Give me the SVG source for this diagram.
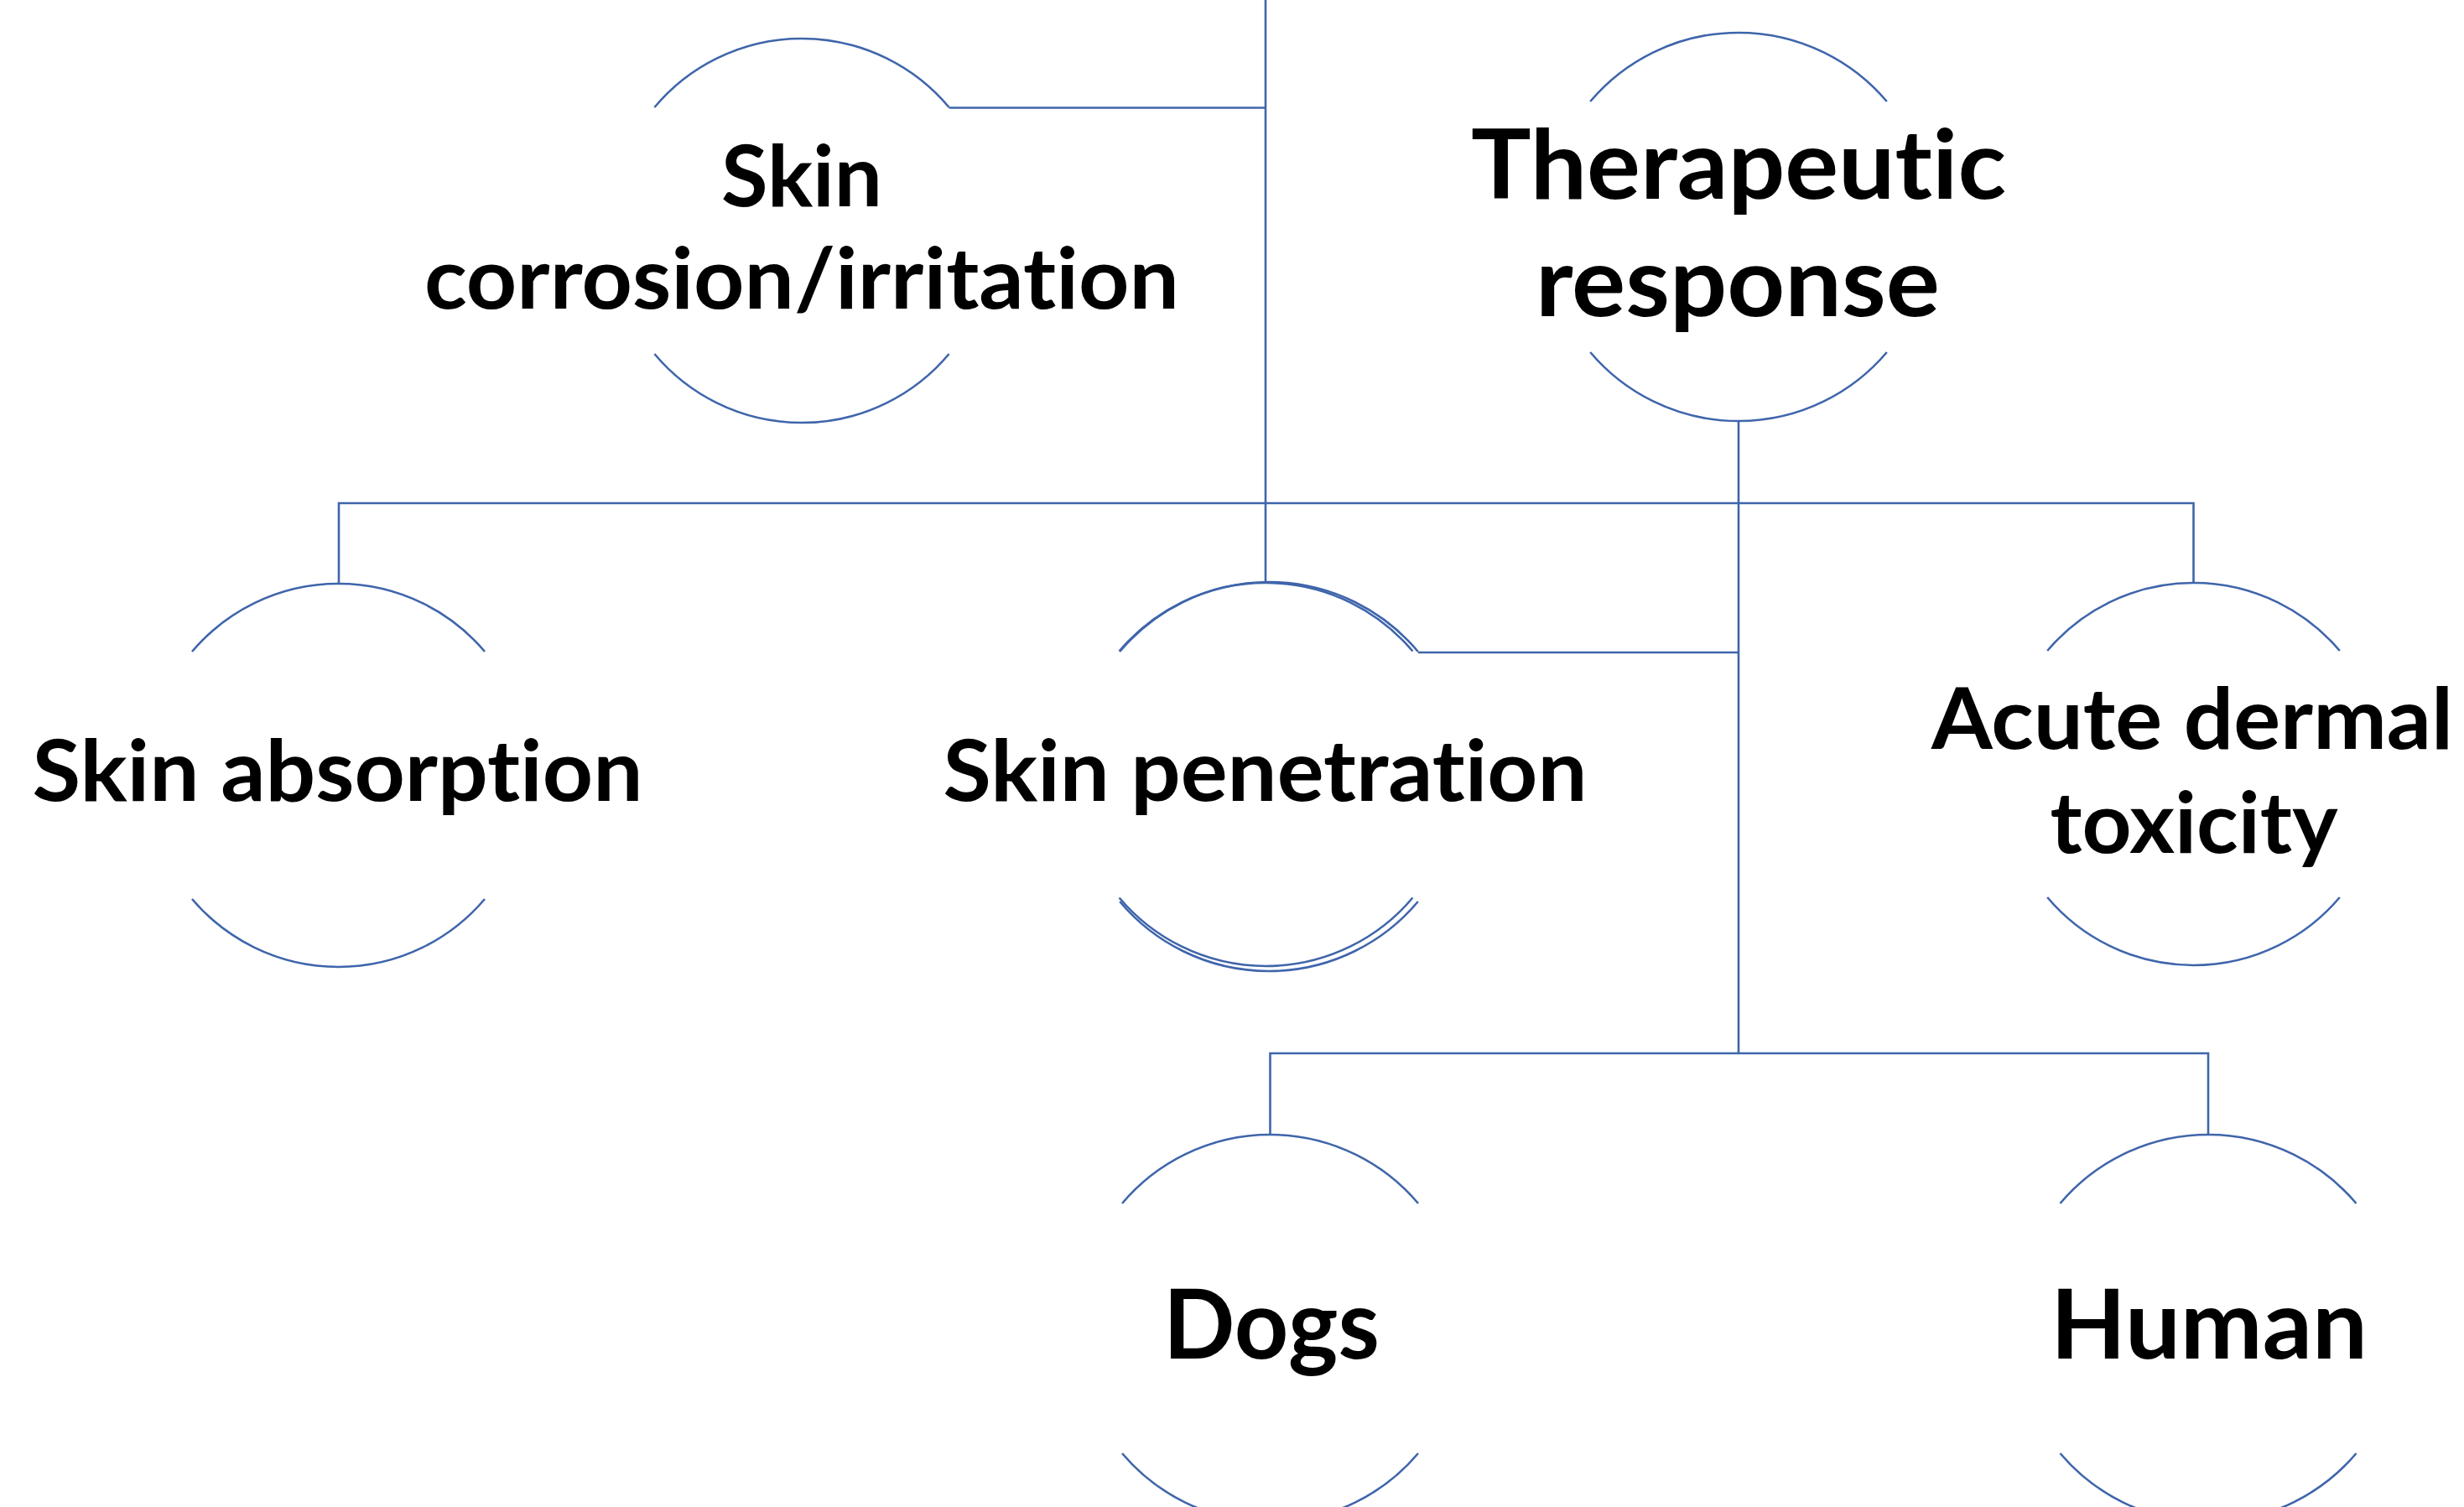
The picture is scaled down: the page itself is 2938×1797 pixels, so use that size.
<svg xmlns="http://www.w3.org/2000/svg" width="2938" height="1797" viewBox="0 0 2938 1797">
<style>
.arc{fill:none;stroke:#3F65AB;stroke-width:2.6}
.con{fill:none;stroke:#3F65AB;stroke-width:2.6}
.t{font-family:Lato,"Open Sans","Liberation Sans",sans-serif;font-weight:bold;fill:#000;text-anchor:middle;font-variant-ligatures:none;font-feature-settings:"liga" 0,"clig" 0,"dlig" 0}
.m{font-size:101px}
.l{font-size:114px}
</style>
<rect width="2938" height="1797" fill="#fff"/>
<g id="connectors">
<path class="con" d="M1509,0 V695"/>
<path class="con" d="M1131.6,128.5 H1509"/>
<path class="con" d="M404,696 V600 H2615.5 V695"/>
<path class="con" d="M2073,502 V1256"/>
<path class="con" d="M1690.8,778 H2073"/>
<path class="con" d="M1514.5,1353 V1256 H2633 V1353"/>
</g>
<g id="node-skin-corrosion">
<path class="arc" d="M780.4,128 A229,229 0 0 1 1131.6,128"/>
<path class="arc" d="M780.4,422 A229,229 0 0 0 1131.6,422"/>
<text class="t m" x="956" y="246" textLength="192" lengthAdjust="spacingAndGlyphs">Skin</text>
<text class="t m" x="956" y="368" textLength="900" lengthAdjust="spacingAndGlyphs">corrosion/irritation</text>
</g>
<g id="node-therapeutic-response">
<path class="arc" d="M1896.2,121 A231.5,231.5 0 0 1 2249.8,121"/>
<path class="arc" d="M1896.2,420 A231.5,231.5 0 0 0 2249.8,420"/>
<text class="t l" x="2073" y="237" textLength="638" lengthAdjust="spacingAndGlyphs">Therapeutic</text>
<text class="t l" x="2072" y="377" textLength="482" lengthAdjust="spacingAndGlyphs">response</text>
</g>
<g id="node-skin-absorption">
<path class="arc" d="M229,777 A228.5,228.5 0 0 1 578,777"/>
<path class="arc" d="M229,1072 A228.5,228.5 0 0 0 578,1072"/>
<text class="t m" x="402.5" y="955" textLength="728" lengthAdjust="spacingAndGlyphs">Skin absorption</text>
</g>
<g id="node-skin-penetration">
<path class="arc" d="M1334.6,776.5 A228.5,228.5 0 0 1 1684.4,776.5"/>
<path class="arc" d="M1334.6,1070.5 A228.5,228.5 0 0 0 1684.4,1070.5"/>
<path class="arc" d="M1335.2,777 A232,232 0 0 1 1690.8,777"/>
<path class="arc" d="M1335.2,1075 A232,232 0 0 0 1690.8,1075"/>
<text class="t m" x="1508.5" y="955" textLength="768" lengthAdjust="spacingAndGlyphs">Skin penetration</text>
</g>
<g id="node-acute-dermal-toxicity">
<path class="arc" d="M2441.2,776 A228,228 0 0 1 2789.8,776"/>
<path class="arc" d="M2441.2,1070 A228,228 0 0 0 2789.8,1070"/>
<text class="t m" x="2614" y="893" textLength="622" lengthAdjust="spacingAndGlyphs">Acute dermal</text>
<text class="t m" x="2616" y="1017" textLength="343" lengthAdjust="spacingAndGlyphs">toxicity</text>
</g>
<g id="node-dogs">
<path class="arc" d="M1338,1435 A231,231 0 0 1 1691,1435"/>
<path class="arc" d="M1338,1733 A231,231 0 0 0 1691,1733"/>
<text class="t l" x="1516" y="1620" textLength="258" lengthAdjust="spacingAndGlyphs">Dogs</text>
</g>
<g id="node-human">
<path class="arc" d="M2456.5,1435 A231,231 0 0 1 2809.5,1435"/>
<path class="arc" d="M2456.5,1733 A231,231 0 0 0 2809.5,1733"/>
<text class="t l" x="2634" y="1620" textLength="378" lengthAdjust="spacingAndGlyphs">Human</text>
</g>
</svg>
